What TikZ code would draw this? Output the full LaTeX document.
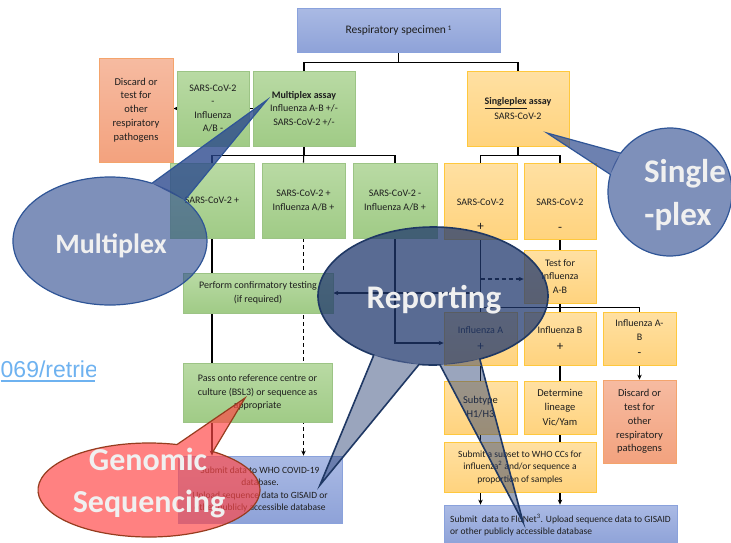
\documentclass[tikz,border=0pt]{standalone}
\usepackage{fontspec}
\setmainfont{Carlito}
\newfontfamily\linkfont{Liberation Sans}
\usetikzlibrary{arrows.meta,backgrounds,calc}

\definecolor{gtop}{HTML}{B9DAA4}
\definecolor{gbot}{HTML}{A0CB86}
\definecolor{gborder}{HTML}{9CC485}
\definecolor{ytop}{HTML}{FFE0A2}
\definecolor{ybot}{HTML}{FFD37E}
\definecolor{yborder}{HTML}{FFC83D}
\definecolor{stop}{HTML}{F6BBA1}
\definecolor{sbot}{HTML}{F3A27E}
\definecolor{sborder}{HTML}{F4A46C}
\definecolor{btop}{HTML}{AABAE4}
\definecolor{bbot}{HTML}{8EA2D8}
\definecolor{bborder}{HTML}{8AA2DC}
\definecolor{txt}{RGB}{30,30,30}
\definecolor{cblue}{RGB}{40,70,140}
\definecolor{cline}{HTML}{2F5597}
\definecolor{navy}{RGB}{32,56,110}
\definecolor{rline}{HTML}{1F3864}
\definecolor{redfill}{RGB}{255,70,70}
\definecolor{redline}{RGB}{150,60,30}
\definecolor{ctxt}{RGB}{240,240,240}
\definecolor{linkblue}{RGB}{110,178,240}

\tikzset{
  boxbase/.style={rectangle, inner sep=0pt, align=center, text=txt, line width=0.8pt,
    font=\fontsize{10}{13.5}\selectfont},
  gbox/.style={boxbase, draw=gborder, top color=gtop, bottom color=gbot},
  ybox/.style={boxbase, draw=yborder, top color=ytop, bottom color=ybot},
  sbox/.style={boxbase, draw=sborder, top color=stop, bottom color=sbot,
    font=\fontsize{10.5}{13.8}\selectfont},
  bbox/.style={boxbase, draw=bborder, top color=btop, bottom color=bbot},
  plain/.style={inner sep=0pt, text=txt, font=\fontsize{10}{13}\selectfont},
  sign/.style={inner sep=0pt, text=txt, font=\fontsize{13}{13}\selectfont},
  conn/.style={line width=1.1pt, black},
  arr/.style={conn, -{Stealth[length=5pt,width=4.5pt]}},
  dconn/.style={arr, dash pattern=on 4pt off 3pt},
  ctext/.style={inner sep=0pt, anchor=base, text=ctxt, font=\bfseries\fontsize{33}{33}\selectfont},
}

\begin{document}
\begin{tikzpicture}[x=1pt,y=-1pt]
\useasboundingbox (0,0) rectangle (731,542);

% ---------- boxes ----------
\node[bbox, minimum width=203pt, minimum height=44pt, font=\fontsize{11.5}{14}\selectfont] (resp) at (398.5,30) {Respiratory specimen\,\raisebox{3pt}{\fontsize{7}{7}\selectfont 1}};
\node[gbox, minimum width=102pt, minimum height=75pt] (mult) at (304,108.5) {\textbf{Multiplex assay}\\Influenza A-B +/-\\SARS-CoV-2 +/-};
\node[gbox, minimum width=72pt, minimum height=75pt] (negneg) at (213,108.5) {SARS-CoV-2\\-\\Influenza\\A/B -};
\node[sbox, minimum width=74pt, minimum height=104pt] (discL) at (136,110) {Discard or\\test for\\other\\respiratory\\pathogens};
\node[ybox, minimum width=102pt, minimum height=75pt] (sing) at (518,108.5) {\textbf{\underline{Singleplex} assay}\\[1pt]SARS-CoV-2};

\node[gbox, minimum width=84pt, minimum height=75pt] (m1) at (212,200.5) {SARS-CoV-2 +};
\node[gbox, minimum width=83pt, minimum height=75pt] (m2) at (303.5,200.5) {SARS-CoV-2 +\\Influenza A/B +};
\node[gbox, minimum width=84pt, minimum height=75pt] (m3) at (395,200.5) {SARS-CoV-2 -\\Influenza A/B +};

\node[gbox, minimum width=150pt, minimum height=40pt] (conf) at (258,293) {Perform confirmatory testing\\(if required)};
\node[gbox, minimum width=149pt, minimum height=59pt] (pass) at (257.5,392.5) {Pass onto reference centre or\\culture (BSL3) or sequence as\\appropriate};
\node[bbox, minimum width=164pt, minimum height=67pt, font=\fontsize{9.5}{12.5}\selectfont] (who) at (260,489.5) {Submit data to WHO COVID-19\\database.\\Upload sequence data to GISAID or\\other publicly accessible database};

\node[ybox, minimum width=73pt, minimum height=76pt] (s1) at (480.5,201) {};
\node[plain] (s1a) at (480.5,202) {SARS-CoV-2};
\node[sign] (s1b) at (480.5,227) {+};
\node[ybox, minimum width=72pt, minimum height=76pt] (s2) at (560,201) {};
\node[plain] (s2a) at (560,202) {SARS-CoV-2};
\node[sign] (s2b) at (560,229) {-};

\node[ybox, minimum width=72pt, minimum height=53pt] (test) at (560,276.5) {Test for\\Influenza\\A-B};
\node[ybox, minimum width=73pt, minimum height=53pt] (fa) at (480.5,338.5) {Influenza A\\[3pt]{\fontsize{13}{13}\selectfont +}};
\node[ybox, minimum width=72pt, minimum height=53pt] (fb) at (560,338.5) {Influenza B\\[3pt]{\fontsize{13}{13}\selectfont +}};
\node[ybox, minimum width=73pt, minimum height=53pt] (fab) at (639.5,338.5) {Influenza A-\\B\\[3pt]{\fontsize{12}{12}\selectfont -}};

\node[ybox, minimum width=73pt, minimum height=53pt, font=\fontsize{10.5}{14}\selectfont] (sub) at (480.5,407.5) {Subtype\\H1/H3};
\node[ybox, minimum width=72pt, minimum height=53pt, font=\fontsize{10.5}{14.5}\selectfont] (lin) at (560,407.5) {Determine\\lineage\\Vic/Yam};
\node[sbox, minimum width=73pt, minimum height=83pt] (discR) at (639.5,421.5) {Discard or\\test for\\other\\respiratory\\pathogens};

\node[ybox, minimum width=152pt, minimum height=50pt, font=\fontsize{9.5}{12.5}\selectfont] (subset) at (520,467) {Submit a subset to WHO CCs for\\influenza\textsuperscript{2} and/or sequence a\\proportion of samples};
\node[bbox, minimum width=233pt, minimum height=40pt, align=left, font=\fontsize{9.5}{12}\selectfont] (flu) at (560.5,525) {Submit\ \ data to FluNet\textsuperscript{3}. Upload sequence data to GISAID\\or other publicly accessible database};

% ---------- connectors ----------
\begin{scope}[on background layer]
\fill[white] (0,0) rectangle (731,542);
\draw[conn] (resp.south) -- ++(0,10) -| (mult.north);
\draw[conn] (resp.south) -- ++(0,10) -| (sing.north);
\draw[arr] (mult.west) -- (mult.west -| discL.east);
\draw[conn] (mult.south) -- ++(0,9) -| (m1.north);
\draw[conn] (mult.south) -- ++(0,9) -| (m3.north);
\draw[conn] (mult.south) -- (m2.north);
\draw[arr] (m1.south) -- (m1.south |- who.north);
\draw[dconn] (m2.south) -- (m2.south |- who.north);
\draw[arr] (m3.south) |- ([yshift=-4.5pt]fa.west);
\draw[conn] (sing.south) -- ++(0,9) -| (s1.north);
\draw[conn] (sing.south) -- ++(0,9) -| (s2.north);
\draw[conn] (s1.south) -- (fa.north);
\draw[arr] (s1.south |- conf.east) -- (conf.east);
\draw[dconn] ([yshift=-2.5pt]s1.south |- test.west) -- ([yshift=-2.5pt]test.west);
\draw[conn] (s2.south) -- (test.north);
\draw[conn] (test.south) -- ++(0,4) -| (fa.north);
\draw[conn] (test.south) -- ++(0,4) -| (fab.north);
\draw[conn] (test.south) -- (fb.north);
\draw[conn] (fa.south) -- (sub.north);
\draw[conn] (fb.south) -- (lin.north);
\draw[arr] (fab.south) -- (discR.north);
\draw[conn] (sub.south) -- (sub.south |- subset.north);
\draw[conn] (lin.south) -- (lin.south |- subset.north);
\draw[arr] (subset.south -| sub.south) -- (flu.north -| sub.south);
\draw[arr] (subset.south -| lin.south) -- (flu.north -| lin.south);
\end{scope}

% ---------- link fragment ----------
\begin{scope}
\clip (0,340) rectangle (95,390);
\node[inner sep=0pt, anchor=base west, text=linkblue, font=\linkfont\fontsize{23}{23}\selectfont] (link) at (0.5,377) {069/retrie};
\draw[linkblue, line width=1.2pt] (link.base west |- 0,381) -- (95,381);
\end{scope}

% ---------- callout: Multiplex ----------
\fill[cblue, fill opacity=0.6] (110,241) ellipse [x radius=97, y radius=64];
\fill[cblue, fill opacity=0.78] (267,100) -- ($(110,241)+(-64.4:97 and 64)$) -- ($(110,241)+(-39.6:97 and 64)$) -- cycle;
\draw[cline, line width=1.2pt] (267,100) -- ($(110,241)+(-64.4:97 and 64)$) arc[start angle=-64.4, end angle=-399.6, x radius=97, y radius=64] -- cycle;
\node[ctext, font=\bfseries\fontsize{28}{28}\selectfont] (mtxt) at (111,253) {Multiplex};

% ---------- callout: Single-plex ----------
\fill[cblue, fill opacity=0.6] (670,192) ellipse [x radius=62, y radius=64];
\fill[cblue, fill opacity=0.68] (547,133) -- ($(670,192)+(-142.7:62 and 64)$) -- ($(670,192)+(195.9:62 and 64)$) -- cycle;
\draw[cline, line width=1.2pt] (547,133) -- ($(670,192)+(-142.7:62 and 64)$) arc[start angle=-142.7, end angle=195.9, x radius=62, y radius=64] -- cycle;
\node[ctext] (stxt1) at (685,182) {Single};
\node[ctext] (stxt2) at (678,225) {-plex};

% ---------- callout: Reporting ----------
\fill[navy, fill opacity=0.74] (433,296) ellipse [x radius=115, y radius=69];
\fill[navy, fill opacity=0.45] (320,485) -- ($(433,296)+(121:115 and 69)$) -- ($(433,296)+(97:115 and 69)$) -- cycle;
\fill[navy, fill opacity=0.45] (523,522) -- ($(433,296)+(86.5:115 and 69)$) -- ($(433,296)+(66:115 and 69)$) -- cycle;
\draw[rline, line width=1.6pt] (320,485) -- ($(433,296)+(121:115 and 69)$) arc[start angle=121, end angle=426, x radius=115, y radius=69] -- (523,522) -- ($(433,296)+(86.5:115 and 69)$) arc[start angle=86.5, end angle=97, x radius=115, y radius=69] -- cycle;
\node[ctext] (rtxt) at (434,308) {Reporting};

% ---------- callout: Genomic Sequencing ----------
\path[fill=redfill, fill opacity=0.68, draw=redline, line width=1.2pt] (245,398) -- ($(149,490)+(-75.4:111 and 47)$) arc[start angle=-75.4, end angle=-414.8, x radius=111, y radius=47] -- cycle;
\node[ctext, font=\bfseries\fontsize{32}{32}\selectfont] (gtxt1) at (148,470) {Genomic};
\node[ctext, font=\bfseries\fontsize{32}{32}\selectfont] (gtxt2) at (149,512) {Sequencing};
\end{tikzpicture}
\end{document}
